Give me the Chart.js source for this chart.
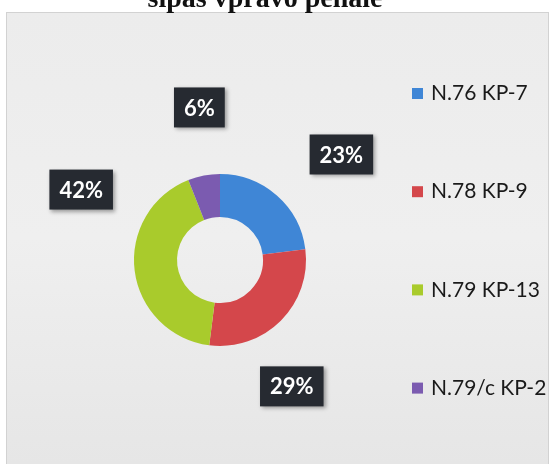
<!DOCTYPE html>
<html>
<head>
<meta charset="utf-8">
<script src="https://cdn.jsdelivr.net/npm/chart.js@4"></script>
<style>
html,body{margin:0;padding:0;background:#ffffff;}
#wrap{position:relative;width:556px;height:464px;}
</style>
</head>
<body>
<div id="wrap"><canvas id="c" width="556" height="464"></canvas></div>
<script>
const titleText = 'sipas vpravo pehale';
const categories = ['N.76 KP-7', 'N.78 KP-9', 'N.79 KP-13', 'N.79/c KP-2'];
const shares = [23, 29, 42, 6];
const percentLabels = ['23%', '29%', '42%', '6%'];
const colors = ['#3f86d6', '#d4474b', '#a9cb2c', '#7b5bb0'];

const panelPlugin = {
  id: 'panel',
  beforeDraw(chart) {
    const ctx = chart.ctx;
    ctx.save();
    const g = ctx.createLinearGradient(0, 12, 0, 464);
    g.addColorStop(0, '#ececec');
    g.addColorStop(0.5, '#efefef');
    g.addColorStop(1, '#e6e6e6');
    ctx.fillStyle = g;
    ctx.fillRect(6, 12, 543, 452);
    ctx.strokeStyle = '#d2d2d2';
    ctx.lineWidth = 1;
    ctx.strokeRect(6.5, 12.5, 542, 460);
    // title (cut off at top, as in the scan)
    ctx.fillStyle = '#111111';
    ctx.font = 'bold 28px "Liberation Serif", serif';
    ctx.textAlign = 'center';
    ctx.textBaseline = 'alphabetic';
    ctx.fillText(titleText, 265, 7);
    ctx.restore();
  }
};

const labelPlugin = {
  id: 'boxLabels',
  afterDraw(chart, args, opts) {
    const ctx = chart.ctx;
    const meta = chart.getDatasetMeta(0);
    ctx.save();
    ctx.font = 'bold 22px Lato, "Open Sans", sans-serif';
    ctx.textAlign = 'center';
    ctx.textBaseline = 'middle';
    meta.data.forEach((arc, i) => {
      const p = arc.getProps(['x', 'y', 'startAngle', 'endAngle', 'outerRadius'], true);
      const mid = (p.startAngle + p.endAngle) / 2 + opts.angleOffsets[i] * Math.PI / 180;
      const d = p.outerRadius * opts.distances[i];
      const cx = p.x + Math.cos(mid) * d;
      const cy = p.y + Math.sin(mid) * d;
      const txt = percentLabels[i];
      const w = ctx.measureText(txt).width + 20;
      const h = 40;
      ctx.shadowColor = 'rgba(0,0,0,0.35)';
      ctx.shadowBlur = 4;
      ctx.shadowOffsetX = 2;
      ctx.shadowOffsetY = 2;
      ctx.fillStyle = '#262a31';
      ctx.fillRect(cx - w / 2, cy - h / 2, w, h);
      ctx.shadowColor = 'transparent';
      ctx.fillStyle = '#ffffff';
      ctx.fillText(txt, cx, cy + 1);
    });
    ctx.restore();
  }
};

const legendPlugin = {
  id: 'sideLegend',
  afterDraw(chart, args, opts) {
    const ctx = chart.ctx;
    const ds = chart.data.datasets[0];
    ctx.save();
    ctx.font = '21px Lato, "Open Sans", sans-serif';
    ctx.textAlign = 'left';
    ctx.textBaseline = 'middle';
    chart.data.labels.forEach((lab, i) => {
      const y = opts.top + i * opts.step;
      ctx.fillStyle = ds.backgroundColor[i];
      ctx.fillRect(opts.left, y - 5.5, 11, 11);
      ctx.fillStyle = '#1a1a1a';
      ctx.fillText(lab, opts.left + 19, y);
    });
    ctx.restore();
  }
};

new Chart(document.getElementById('c'), {
  type: 'doughnut',
  data: {
    labels: categories,
    datasets: [{
      data: shares,
      backgroundColor: colors,
      borderWidth: 0,
      hoverOffset: 0
    }]
  },
  options: {
    responsive: false,
    animation: false,
    cutout: '50%',
    layout: { padding: { left: 134, right: 250, top: 174, bottom: 118 } },
    plugins: {
      legend: { display: false },
      tooltip: { enabled: false },
      title: { display: false },
      boxLabels: {
        angleOffsets: [7.6, 15.4, 34.1, 3.1],
        distances: [1.87, 1.69, 1.81, 1.79]
      },
      sideLegend: { left: 412, top: 93.5, step: 98.2 }
    }
  },
  plugins: [panelPlugin, labelPlugin, legendPlugin]
});
</script>
</body>
</html>
